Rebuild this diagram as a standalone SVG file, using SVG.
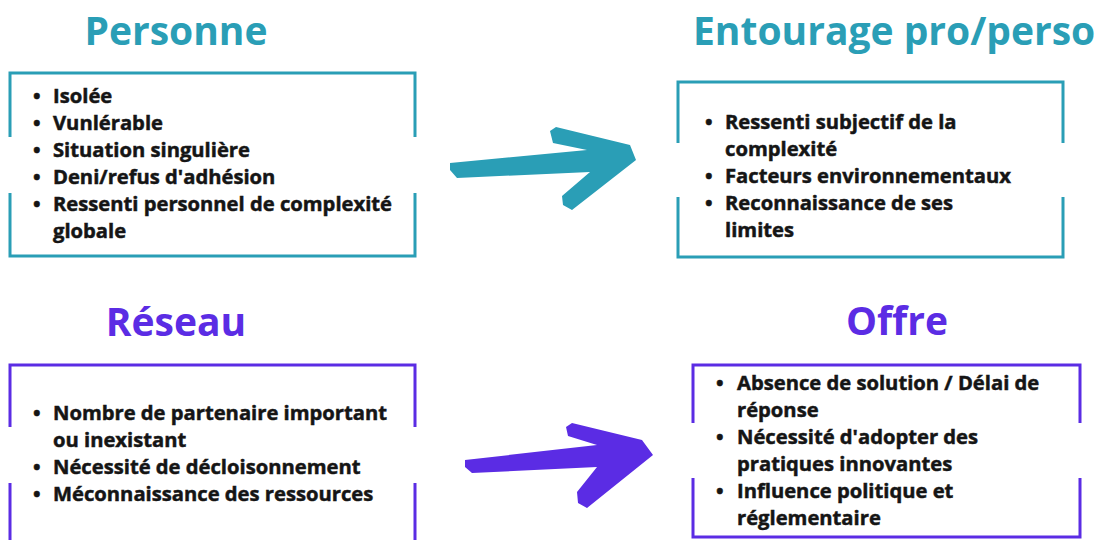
<svg xmlns="http://www.w3.org/2000/svg" width="1102" height="540" viewBox="0 0 1102 540">
<style>
.title{font-family:"Open Sans","Liberation Sans",sans-serif;font-weight:700;font-size:39px}
.teal{fill:#2a9eb6}
.purple{fill:#5b2ce4}
.box{fill:none;stroke-width:3}
.bt{stroke:#2a9eb6}
.bp{stroke:#5b2ce4}
.item{font-family:"Open Sans","Liberation Sans",sans-serif;font-weight:700;font-size:20.2px;fill:#151515;stroke:#151515;stroke-width:0.5}
</style>
<rect width="1102" height="540" fill="#ffffff"/>
<g id="personne">
<text class="title teal" x="176" y="45" text-anchor="middle">Personne</text>
<path class="box bt" d="M10,137 V73 H415 V137 M10,193 V256 H415 V193"/>
<g class="item">
<text x="33" y="103">•</text><text x="53" y="103">Isolée</text>
<text x="33" y="130">•</text><text x="53" y="130">Vunlérable</text>
<text x="33" y="157">•</text><text x="53" y="157">Situation singulière</text>
<text x="33" y="184">•</text><text x="53" y="184">Deni/refus d'adhésion</text>
<text x="33" y="211">•</text><text x="53" y="211">Ressenti personnel de complexité</text>
<text x="53" y="238">globale</text>
</g>
</g>
<g id="entourage">
<text class="title teal" x="693" y="45">Entourage pro/perso</text>
<path class="box bt" d="M678,143 V82 H1063 V143 M678,197 V257 H1063 V197"/>
<g class="item">
<text x="705" y="129">•</text><text x="725" y="129">Ressenti subjectif de la</text>
<text x="725" y="156">complexité</text>
<text x="705" y="183">•</text><text x="725" y="183">Facteurs environnementaux</text>
<text x="705" y="210">•</text><text x="725" y="210">Reconnaissance de ses</text>
<text x="725" y="237">limites</text>
</g>
</g>
<g id="reseau">
<text class="title purple" x="176" y="336" text-anchor="middle">Réseau</text>
<path class="box bp" d="M10,427 V365 H415 V427 M10,483 V545 M415,483 V545"/>
<g class="item">
<text x="33" y="420">•</text><text x="53" y="420">Nombre de partenaire important</text>
<text x="53" y="447">ou inexistant</text>
<text x="33" y="474">•</text><text x="53" y="474">Nécessité de décloisonnement</text>
<text x="33" y="501">•</text><text x="53" y="501">Méconnaissance des ressources</text>
</g>
</g>
<g id="offre">
<text class="title purple" x="897" y="335" text-anchor="middle">Offre</text>
<path class="box bp" d="M693,423 V365 H1080 V423 M693,478 V537 H1080 V478"/>
<g class="item">
<text x="716" y="390">•</text><text x="737" y="390">Absence de solution / Délai de</text>
<text x="737" y="417">réponse</text>
<text x="716" y="444">•</text><text x="737" y="444">Nécessité d'adopter des</text>
<text x="737" y="471">pratiques innovantes</text>
<text x="716" y="498">•</text><text x="737" y="498">Influence politique et</text>
<text x="737" y="525">réglementaire</text>
</g>
</g>
<g id="connectors">
<path class="teal" d="M450,163 L587,150 L553,143 L550,131 L556,127 L630,145 L636,160 L572,210 L563,205 L562,196 L590,172 L457,178 L450,170 Z"/>
<path class="purple" d="M465,460 L597,445 L568,436 L566,427 L572,423 L642,440 L653,455 L587,508 L578,503 L577,492 L597,467 L472,473 L465,467 Z"/>
</g>
</svg>
